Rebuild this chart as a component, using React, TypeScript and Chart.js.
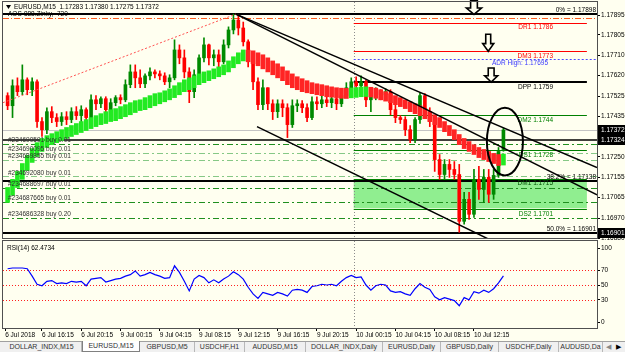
import React, { useEffect, useRef } from 'react';
import { Chart, registerables } from 'chart.js';

Chart.register(...registerables);

const FONT = '"Liberation Sans", Arial, sans-serif';

// ---------------- data (30-minute candle slots) ----------------
const candleOpen = [
  1.17528, 1.17482, 1.17573, 1.17546, 1.17600, 1.17555, 1.17591, 1.17410, 1.17373, 1.17455,
  1.17428, 1.17410, 1.17432, 1.17419, 1.17455, 1.17437, 1.17464, 1.17428, 1.17509, 1.17491,
  1.17514, 1.17464, 1.17496, 1.17519, 1.17509, 1.17578, 1.17636, 1.17609, 1.17582, 1.17618,
  1.17636, 1.17627, 1.17618, 1.17591, 1.17609, 1.17736, 1.17700, 1.17636, 1.17546, 1.17623,
  1.17700, 1.17759, 1.17700, 1.17714, 1.17682, 1.17759, 1.17827, 1.17872, 1.17836, 1.17773,
  1.17714, 1.17591, 1.17487, 1.17564, 1.17491, 1.17455, 1.17491, 1.17473, 1.17396, 1.17482,
  1.17491, 1.17473, 1.17428, 1.17500, 1.17491, 1.17509, 1.17496, 1.17514, 1.17491, 1.17528,
  1.17564, 1.17591, 1.17573, 1.17591, 1.17509, 1.17528, 1.17546, 1.17532, 1.17546, 1.17464,
  1.17428, 1.17419, 1.17373, 1.17328, 1.17419, 1.17528, 1.17455, 1.17410, 1.17237, 1.17169,
  1.17215, 1.17192, 1.17169, 1.16956, 1.17056, 1.16988, 1.17147, 1.17101, 1.17156, 1.17079,
  1.17165, 1.17283,
];
const candleHigh = [
  1.17541, 1.17600, 1.17609, 1.17668, 1.17609, 1.17609, 1.17600, 1.17428, 1.17473, 1.17478,
  1.17446, 1.17451, 1.17455, 1.17473, 1.17478, 1.17482, 1.17473, 1.17532, 1.17528, 1.17523,
  1.17523, 1.17514, 1.17528, 1.17532, 1.17600, 1.17668, 1.17668, 1.17646, 1.17627, 1.17655,
  1.17646, 1.17641, 1.17632, 1.17623, 1.17782, 1.17759, 1.17736, 1.17655, 1.17646, 1.17714,
  1.17791, 1.17763, 1.17736, 1.17736, 1.17782, 1.17841, 1.17899, 1.17895, 1.17863, 1.17782,
  1.17727, 1.17609, 1.17600, 1.17564, 1.17509, 1.17509, 1.17509, 1.17491, 1.17509, 1.17509,
  1.17505, 1.17491, 1.17523, 1.17523, 1.17532, 1.17528, 1.17528, 1.17528, 1.17546, 1.17587,
  1.17609, 1.17614, 1.17618, 1.17600, 1.17546, 1.17564, 1.17555, 1.17559, 1.17555, 1.17487,
  1.17437, 1.17432, 1.17392, 1.17428, 1.17541, 1.17537, 1.17473, 1.17419, 1.17260, 1.17237,
  1.17237, 1.17228, 1.17215, 1.17088, 1.17088, 1.17192, 1.17206, 1.17192, 1.17192, 1.17192,
  1.17292, 1.17380,
];
const candleLow = [
  1.17464, 1.17428, 1.17528, 1.17532, 1.17532, 1.17528, 1.17383, 1.17342, 1.17355, 1.17405,
  1.17387, 1.17392, 1.17396, 1.17405, 1.17419, 1.17410, 1.17414, 1.17414, 1.17464, 1.17473,
  1.17451, 1.17455, 1.17482, 1.17491, 1.17500, 1.17564, 1.17564, 1.17564, 1.17564, 1.17600,
  1.17609, 1.17600, 1.17578, 1.17564, 1.17600, 1.17673, 1.17609, 1.17496, 1.17519, 1.17609,
  1.17682, 1.17668, 1.17664, 1.17659, 1.17673, 1.17745, 1.17809, 1.17804, 1.17754, 1.17659,
  1.17555, 1.17464, 1.17464, 1.17464, 1.17419, 1.17428, 1.17432, 1.17337, 1.17383, 1.17455,
  1.17451, 1.17410, 1.17419, 1.17464, 1.17473, 1.17478, 1.17473, 1.17464, 1.17478, 1.17519,
  1.17546, 1.17532, 1.17537, 1.17478, 1.17455, 1.17509, 1.17509, 1.17514, 1.17441, 1.17405,
  1.17401, 1.17346, 1.17314, 1.17314, 1.17401, 1.17428, 1.17387, 1.17183, 1.17147, 1.17147,
  1.17156, 1.17147, 1.16906, 1.16943, 1.16965, 1.16974, 1.17056, 1.17042, 1.17042, 1.17056,
  1.17156, 1.17275,
];
const candleClose = [
  1.17482, 1.17573, 1.17546, 1.17600, 1.17555, 1.17591, 1.17410, 1.17373, 1.17455, 1.17428,
  1.17410, 1.17432, 1.17419, 1.17455, 1.17437, 1.17464, 1.17428, 1.17509, 1.17491, 1.17514,
  1.17464, 1.17496, 1.17519, 1.17509, 1.17578, 1.17636, 1.17609, 1.17582, 1.17618, 1.17636,
  1.17627, 1.17618, 1.17591, 1.17609, 1.17736, 1.17700, 1.17636, 1.17546, 1.17623, 1.17700,
  1.17759, 1.17700, 1.17714, 1.17682, 1.17759, 1.17827, 1.17872, 1.17836, 1.17773, 1.17714,
  1.17591, 1.17487, 1.17564, 1.17491, 1.17455, 1.17491, 1.17473, 1.17396, 1.17482, 1.17491,
  1.17473, 1.17428, 1.17500, 1.17491, 1.17509, 1.17496, 1.17514, 1.17491, 1.17528, 1.17564,
  1.17591, 1.17573, 1.17591, 1.17509, 1.17528, 1.17546, 1.17532, 1.17546, 1.17464, 1.17428,
  1.17419, 1.17373, 1.17328, 1.17419, 1.17528, 1.17455, 1.17410, 1.17237, 1.17169, 1.17215,
  1.17192, 1.17169, 1.16956, 1.17056, 1.16988, 1.17147, 1.17101, 1.17156, 1.17079, 1.17165,
  1.17274, 1.17372,
];
const maUpper = [
  1.17110, 1.17147, 1.17183, 1.17219, 1.17256, 1.17287, 1.17314, 1.17333, 1.17346, 1.17355,
  1.17364, 1.17373, 1.17383, 1.17392, 1.17401, 1.17410, 1.17419, 1.17428, 1.17437, 1.17446,
  1.17455, 1.17464, 1.17469, 1.17478, 1.17487, 1.17496, 1.17505, 1.17509, 1.17519, 1.17528,
  1.17537, 1.17541, 1.17550, 1.17559, 1.17573, 1.17587, 1.17600, 1.17609, 1.17618, 1.17627,
  1.17636, 1.17641, 1.17650, 1.17659, 1.17668, 1.17686, 1.17705, 1.17723, 1.17736, 1.17735,
  1.17732, 1.17723, 1.17714, 1.17700, 1.17686, 1.17673, 1.17659, 1.17641, 1.17627, 1.17614,
  1.17605, 1.17596, 1.17587, 1.17582, 1.17578, 1.17573, 1.17568, 1.17564, 1.17562, 1.17561,
  1.17563, 1.17565, 1.17567, 1.17568, 1.17566, 1.17562, 1.17555, 1.17546, 1.17537, 1.17528,
  1.17519, 1.17509, 1.17500, 1.17491, 1.17482, 1.17469, 1.17455, 1.17441, 1.17428, 1.17410,
  1.17392, 1.17373, 1.17351, 1.17333, 1.17319, 1.17305, 1.17292, 1.17283, 1.17274, 1.17265,
  1.17260, 1.17262,
];
const maLower = [
  1.17042, 1.17074, 1.17110, 1.17147, 1.17187, 1.17224, 1.17251, 1.17274, 1.17292, 1.17305,
  1.17314, 1.17324, 1.17333, 1.17342, 1.17351, 1.17360, 1.17369, 1.17378, 1.17387, 1.17396,
  1.17401, 1.17410, 1.17414, 1.17423, 1.17432, 1.17441, 1.17451, 1.17460, 1.17464, 1.17473,
  1.17482, 1.17491, 1.17500, 1.17509, 1.17519, 1.17532, 1.17546, 1.17555, 1.17564, 1.17578,
  1.17587, 1.17596, 1.17605, 1.17614, 1.17623, 1.17636, 1.17655, 1.17673, 1.17686, 1.17682,
  1.17673, 1.17664, 1.17650, 1.17636, 1.17623, 1.17609, 1.17596, 1.17578, 1.17564, 1.17555,
  1.17546, 1.17541, 1.17537, 1.17532, 1.17528, 1.17523, 1.17521, 1.17519, 1.17516, 1.17515,
  1.17518, 1.17520, 1.17523, 1.17524, 1.17522, 1.17516, 1.17509, 1.17503, 1.17496, 1.17487,
  1.17478, 1.17469, 1.17455, 1.17446, 1.17437, 1.17423, 1.17410, 1.17396, 1.17383, 1.17364,
  1.17346, 1.17328, 1.17305, 1.17287, 1.17274, 1.17260, 1.17246, 1.17237, 1.17228, 1.17219,
  1.17210, 1.17212,
];
const rsiValues = [
  72, 73, 73, 73, 72, 62, 51, 49, 55, 56,
  52, 53, 52, 55, 54, 55, 49, 58, 59, 60,
  54, 56, 58, 59, 62, 64, 69, 62, 64, 67,
  64, 62, 59, 60, 76, 67, 55, 42, 58, 63,
  60, 53, 57, 53, 58, 62, 68, 64, 58, 47,
  38, 32, 40, 38, 36, 40, 38, 35, 43, 44,
  43, 40, 48, 49, 51, 50, 51, 49, 55, 60,
  63, 60, 61, 50, 43, 49, 51, 50, 42, 40,
  41, 38, 36, 45, 52, 47, 44, 34, 30, 33,
  31, 29, 22, 33, 30, 41, 39, 43, 40, 45,
  53, 62.4734,
];

const timeTickSlots = [-0.5, 7, 15, 23, 31, 39, 47, 55, 63, 71, 79, 87, 95];
const timeTickLabels = [
  '6 Jul 2018', '6 Jul 16:15', '6 Jul 20:15', '9 Jul 00:15', '9 Jul 04:15', '9 Jul 08:15',
  '9 Jul 12:15', '9 Jul 16:15', '9 Jul 20:15', '10 Jul 00:15', '10 Jul 04:15', '10 Jul 08:15',
  '10 Jul 12:15',
];
const priceTicks = [1.1688, 1.1697, 1.17065, 1.17155, 1.1725, 1.17435, 1.17525, 1.1762, 1.1771, 1.17805, 1.17895];
const rsiTicks = [0, 30, 50, 70, 100];
const rsiLevels = [70, 50, 30];

const fibNames = ['0%', '38.2%', '50.0%'];
const fibPrices = [1.17898, 1.17138, 1.16901];
const pivotNames = ['DR1', 'DM3', 'DPP', 'DM2', 'DS1', 'DM1', 'DS2'];
const pivotPrices = [1.1786, 1.1773, 1.1759, 1.1744, 1.1728, 1.1715, 1.1701];
const adrHighPrice = 1.17695;
const orangeLevelPrice = 1.17881;
const bidPrice = 1.17372;
const markedLinePrice = 1.17324;
const axisMarkPrices = [1.17372, 1.17324, 1.16901];
const orderTickets = ['#234690591', '#234690095', '#234689855', '#234692080', '#234688697', '#234687665', '#234686328'];
const orderLots = [0.01, 0.01, 0.01, 0.01, 0.01, 0.01, 0.2];
const orderPrices = [1.1731, 1.17265, 1.17237, 1.1716, 1.17106, 1.17042, 1.1697];
const zonePrices = [1.17015, 1.17142];
const daySeparatorSlot = 70.5;
const pivotSlots = [70.5, 118];
const pivotLabelSlot = 111.1;
const trendBlackA = [[46.5, 1.17899], [120.06, 1.17201]];
const trendBlackB = [[46.5, 1.17899], [120.06, 1.17076]];
const trendChannelLow = [[50.8, 1.17387], [98.25, 1.16872]];
const trendRedDotted = [[-0.94, 1.17496], [46.5, 1.17899]];
const arrowSlots = [95.0, 97.9, 98.5];
const arrowPrices = [1.17898, 1.1773, 1.1759];
const ellipseCenter = [101.3, 1.17319];
const ellipseRadii = [3.67, 0.00154];

const X_MIN = -0.94;
const X_MAX = 120.06;

// ---------------- styles ----------------
const BG = '#fffff0';
const arrowSizes = [[15, 14], [11, 17], [13, 14]];
const orderLineColors = ['#1f8f1f', '#86c886', '#86c886', '#86c886', '#1f8f1f', '#1f8f1f', '#1f8f1f'];
const pivotColors = ['#ff0000', '#ff0000', '#000000', '#008000', '#008000', '#008000', '#008000'];
const pivotLabelColors = ['#ff0000', '#ff0000', '#000000', '#008000', '#008000', '#005000', '#008000'];
const pivotWidths = [1, 1, 2, 1, 1, 1, 1];
const tabNames = ['DOLLAR_INDX,M15', 'EURUSD,M15', 'GBPUSD,M5', 'USDCHF,H1', 'AUDUSD,M15', 'DOLLAR_INDX,Daily', 'EURUSD,Daily', 'GBPUSD,Daily', 'USDCHF,Daily', 'AUDUSD,Da'];
const tabLefts = [2, 82, 140, 195, 245, 306, 383, 441, 499, 559];
const tabRight = 603;

function seg(ctx: any, x1: number, y1: number, x2: number, y2: number, color: string, width: number, dash?: number[]) {
  ctx.save();
  ctx.beginPath();
  ctx.strokeStyle = color;
  ctx.lineWidth = width;
  ctx.setLineDash(dash || []);
  ctx.moveTo(x1, y1);
  ctx.lineTo(x2, y2);
  ctx.stroke();
  ctx.restore();
}
const crisp = (v: number, w: number) => (Math.round(w) % 2 === 1 ? Math.round(v) + 0.5 : Math.round(v));

function frame(ctx: any, a: any) {
  ctx.save();
  ctx.strokeStyle = '#505050';
  ctx.lineWidth = 1;
  ctx.strokeRect(Math.round(a.left) - 0.5, Math.round(a.top) - 0.5, Math.round(a.right - a.left) + 1, Math.round(a.bottom - a.top) + 1);
  ctx.restore();
}

const mainOverlay = {
  id: 'mainOverlay',
  beforeDatasetsDraw(chart: any) {
    const { ctx, chartArea: a, scales } = chart;
    const X = (v: number) => scales.x.getPixelForValue(v);
    const Y = (v: number) => scales.y.getPixelForValue(v);
    ctx.save();
    ctx.beginPath();
    ctx.rect(a.left, a.top, a.right - a.left, a.bottom - a.top);
    ctx.clip();
    // zone
    const zx1 = X(pivotSlots[0]);
    const zx2 = X(pivotSlots[1]);
    const zy1 = Y(zonePrices[1]);
    const zy2 = Y(zonePrices[0]);
    ctx.fillStyle = '#90ee90';
    ctx.fillRect(zx1, zy1, zx2 - zx1, zy2 - zy1);
    // day separator
    const sx = Math.round(X(daySeparatorSlot)) + 0.5;
    seg(ctx, sx, a.top, sx, a.bottom, '#8c8c8c', 1, [1, 2]);
    // full width lines
    const full = (p: number, color: string, w: number, dash?: number[]) => {
      const y = crisp(Y(p), w);
      seg(ctx, a.left, y, a.right, y, color, w, dash);
    };
    full(bidPrice, '#c4c4c4', 1);
    full(orangeLevelPrice, '#ff5a1a', 1, [6, 2, 1, 2]);
    orderPrices.forEach((p, i) => full(p, orderLineColors[i], 1, [6, 3, 2, 3]));
    full(markedLinePrice, '#000000', 1.5);
    fibPrices.forEach((p) => full(p, '#000000', 2));
    // pivots
    const px1 = X(pivotSlots[0]);
    const px2 = X(pivotSlots[1]);
    pivotPrices.forEach((p, i) => {
      const y = crisp(Y(p), pivotWidths[i]);
      seg(ctx, px1, y, px2, y, pivotColors[i], pivotWidths[i]);
    });
    const ay = crisp(Y(adrHighPrice), 1);
    seg(ctx, px1, ay, a.right, ay, '#4a4aff', 1, [2, 2]);
    ctx.restore();
  },
  afterDatasetsDraw(chart: any) {
    const { ctx, chartArea: a, scales } = chart;
    const X = (v: number) => scales.x.getPixelForValue(v);
    const Y = (v: number) => scales.y.getPixelForValue(v);
    ctx.save();
    ctx.font = `6.5px ${FONT}`;
    // pivot labels (below line, right aligned)
    const lx = X(pivotLabelSlot);
    ctx.textAlign = 'right';
    ctx.textBaseline = 'top';
    pivotPrices.forEach((p, i) => {
      ctx.fillStyle = pivotLabelColors[i];
      ctx.fillText(`${pivotNames[i]} ${p.toFixed(4)}`, lx, Y(p) + 1.5);
    });
    ctx.fillStyle = '#3a3aff';
    ctx.fillText(`ADR High: ${adrHighPrice.toFixed(5)}`, lx - 5, Y(adrHighPrice) + 1.5);
    // fib labels (above line, right edge)
    ctx.fillStyle = '#000';
    ctx.textBaseline = 'bottom';
    fibPrices.forEach((p, i) => {
      ctx.fillText(`${fibNames[i]} = ${p.toFixed(5)}`, a.right - 1, Y(p) - 1);
    });
    // order labels
    ctx.textAlign = 'left';
    ctx.fillStyle = '#303030';
    orderPrices.forEach((p, i) => {
      ctx.fillText(`${orderTickets[i]} buy ${orderLots[i].toFixed(2)}`, a.left + 5, Y(p) - 0.5);
    });
    // header
    const last = candleClose.length - 1;
    ctx.fillStyle = '#000';
    ctx.textBaseline = 'middle';
    ctx.beginPath();
    ctx.moveTo(a.left + 3, a.top + 3);
    ctx.lineTo(a.left + 8, a.top + 3);
    ctx.lineTo(a.left + 5.5, a.top + 7);
    ctx.closePath();
    ctx.fill();
    ctx.fillText(
      `EURUSD,M15  ${candleOpen[last].toFixed(5)} ${candleHigh[last].toFixed(5)} ${candleLow[last].toFixed(5)} ${candleClose[last].toFixed(5)}`,
      a.left + 11, a.top + 5
    );
    ctx.fillText('AOS-888.Zinky,  720', a.left + 5, a.top + 12);
    // ellipse
    const ex = X(ellipseCenter[0]);
    const ey = Y(ellipseCenter[1]);
    const rx = X(ellipseCenter[0] + ellipseRadii[0]) - ex;
    const ry = Y(ellipseCenter[1] - ellipseRadii[1]) - ey;
    ctx.beginPath();
    ctx.ellipse(ex, ey, rx, ry, 0, 0, Math.PI * 2);
    ctx.strokeStyle = '#000';
    ctx.lineWidth = 2;
    ctx.stroke();
    // arrows
    arrowSlots.forEach((s, i) => {
      const cx = X(s);
      const tip = Y(arrowPrices[i]);
      const [w, h] = arrowSizes[i];
      const hh = h * 0.45;
      const sw = w * 0.45;
      ctx.beginPath();
      ctx.moveTo(cx, tip);
      ctx.lineTo(cx - w / 2, tip - hh);
      ctx.lineTo(cx - sw / 2, tip - hh);
      ctx.lineTo(cx - sw / 2, tip - h);
      ctx.lineTo(cx + sw / 2, tip - h);
      ctx.lineTo(cx + sw / 2, tip - hh);
      ctx.lineTo(cx + w / 2, tip - hh);
      ctx.closePath();
      ctx.fillStyle = BG;
      ctx.fill();
      ctx.strokeStyle = '#000';
      ctx.lineWidth = 1.6;
      ctx.stroke();
    });
    // axis price boxes
    ctx.font = `6.5px ${FONT}`;
    ctx.textAlign = 'left';
    ctx.textBaseline = 'middle';
    axisMarkPrices.forEach((p) => {
      const y = Math.round(Y(p));
      ctx.fillStyle = '#000';
      ctx.fillRect(a.right, y - 5, chart.width - a.right, 10);
      ctx.fillStyle = '#fff';
      ctx.fillText(p.toFixed(5), a.right + 4, y);
    });
    frame(ctx, a);
    ctx.restore();
  },
};

const rsiOverlay = {
  id: 'rsiOverlay',
  beforeDatasetsDraw(chart: any) {
    const { ctx, chartArea: a, scales } = chart;
    const X = (v: number) => scales.x.getPixelForValue(v);
    const Y = (v: number) => scales.y.getPixelForValue(v);
    rsiLevels.forEach((l) => {
      const y = crisp(Y(l), 1);
      seg(ctx, a.left, y, a.right, y, '#ff2020', 1, [1, 2]);
    });
    const sx = Math.round(X(daySeparatorSlot)) + 0.5;
    seg(ctx, sx, a.top, sx, a.bottom, '#8c8c8c', 1, [1, 2]);
  },
  afterDatasetsDraw(chart: any) {
    const { ctx, chartArea: a } = chart;
    ctx.save();
    ctx.font = `6.5px ${FONT}`;
    ctx.fillStyle = '#000';
    ctx.textAlign = 'left';
    ctx.textBaseline = 'middle';
    ctx.fillText(`RSI(14) ${rsiValues[rsiValues.length - 1].toFixed(4)}`, a.left + 4, a.top + 7);
    frame(ctx, a);
    ctx.restore();
  },
};

export default function App() {
  const mainRef = useRef<HTMLCanvasElement>(null);
  const rsiRef = useRef<HTMLCanvasElement>(null);

  useEffect(() => {
    const slots = candleClose.map((_, i) => i);
    const candleColors = candleClose.map((c, i) => (c >= candleOpen[i] ? '#008a00' : '#ff0000'));
    const maColors = maUpper.map((v, i) => (i === 0 || v >= maUpper[i - 1] ? '#22ea22' : '#ff2424'));
    const lineDs = (pts: number[][], color: string, width: number, dash?: number[]) => ({
      type: 'line',
      data: pts.map((p) => ({ x: p[0], y: p[1] })),
      borderColor: color,
      borderWidth: width,
      borderDash: dash || [],
      pointRadius: 0,
      fill: false,
      tension: 0,
    });

    const main = new Chart(mainRef.current as HTMLCanvasElement, {
      type: 'bar',
      data: {
        datasets: [
          lineDs(trendBlackA, '#000', 1.5),
          lineDs(trendBlackB, '#000', 1.5),
          lineDs(trendChannelLow, '#000', 1.5),
          lineDs(trendRedDotted, '#ff5050', 1, [2, 2]),
          {
            type: 'bar',
            data: slots.map((i) => ({ x: i, y: [maLower[i], maUpper[i]] })),
            backgroundColor: maColors,
            barThickness: 4,
            grouped: false,
          },
          {
            type: 'bar',
            data: slots.map((i) => ({ x: i, y: [candleOpen[i], candleClose[i]] })),
            backgroundColor: candleColors,
            barThickness: 3,
            minBarLength: 1,
            grouped: false,
          },
          {
            type: 'bar',
            data: slots.map((i) => ({ x: i, y: [candleLow[i], candleHigh[i]] })),
            backgroundColor: candleColors,
            barThickness: 1,
            grouped: false,
          },
        ] as any,
      },
      options: {
        responsive: false,
        animation: false,
        devicePixelRatio: 1,
        events: [],
        layout: { padding: { left: 3, top: 2, right: 0, bottom: 2 } },
        plugins: { legend: { display: false }, tooltip: { enabled: false } },
        scales: {
          x: {
            type: 'linear',
            min: X_MIN,
            max: X_MAX,
            offset: false,
            display: false,
            grid: { offset: false },
          },
          y: {
            type: 'linear',
            position: 'right',
            min: 1.1688,
            max: 1.179542,
            afterBuildTicks: (s: any) => {
              s.ticks = priceTicks.map((v) => ({ value: v }));
            },
            afterFit: (s: any) => {
              s.width = 28;
              s.paddingTop = 0;
              s.paddingBottom = 0;
            },
            ticks: {
              autoSkip: false,
              padding: 1,
              color: '#000',
              font: { family: FONT, size: 6.5 },
              callback: (v: any) => Number(v).toFixed(5),
            },
            grid: { drawOnChartArea: false, drawTicks: true, tickLength: 3, color: '#000' },
            border: { display: true, color: '#000' },
          },
        },
      } as any,
      plugins: [mainOverlay],
    });

    const rsi = new Chart(rsiRef.current as HTMLCanvasElement, {
      type: 'line',
      data: {
        datasets: [
          {
            data: slots.map((i) => ({ x: i, y: rsiValues[i] })),
            borderColor: '#0000ff',
            borderWidth: 1.2,
            pointRadius: 0,
            tension: 0,
            fill: false,
          },
        ],
      },
      options: {
        responsive: false,
        animation: false,
        devicePixelRatio: 1,
        events: [],
        layout: { padding: { left: 3, top: 1, right: 0, bottom: 0 } },
        plugins: { legend: { display: false }, tooltip: { enabled: false } },
        scales: {
          x: {
            type: 'linear',
            min: X_MIN,
            max: X_MAX,
            offset: false,
            afterBuildTicks: (s: any) => {
              s.ticks = timeTickSlots.map((v) => ({ value: v }));
            },
            afterFit: (s: any) => {
              s.height = 13;
              s.paddingLeft = 0;
              s.paddingRight = 0;
            },
            ticks: {
              autoSkip: false,
              maxRotation: 0,
              minRotation: 0,
              align: 'start',
              padding: 0,
              color: '#000',
              font: { family: FONT, size: 6.5 },
              callback: (_v: any, i: number) => timeTickLabels[i],
            },
            grid: { drawOnChartArea: false, drawTicks: true, tickLength: 3, color: '#000' },
            border: { display: true, color: '#000' },
          },
          y: {
            type: 'linear',
            position: 'right',
            min: -8.1,
            max: 109.5,
            afterBuildTicks: (s: any) => {
              s.ticks = rsiTicks.map((v) => ({ value: v }));
            },
            afterFit: (s: any) => {
              s.width = 28;
              s.paddingTop = 0;
              s.paddingBottom = 0;
            },
            ticks: {
              autoSkip: false,
              padding: 1,
              color: '#000',
              font: { family: FONT, size: 6.5 },
              callback: (v: any) => String(v),
            },
            grid: { drawOnChartArea: false, drawTicks: true, tickLength: 3, color: '#000' },
            border: { display: true, color: '#000' },
          },
        },
      } as any,
      plugins: [rsiOverlay],
    });

    return () => {
      main.destroy();
      rsi.destroy();
    };
  }, []);

  return (
    <div style={{ position: 'fixed', left: 0, top: 0, width: 625, height: 352, background: BG, overflow: 'hidden' }}>
      <canvas ref={mainRef} width={625} height={240} style={{ position: 'absolute', left: 0, top: 0 }} />
      <canvas ref={rsiRef} width={625} height={101} style={{ position: 'absolute', left: 0, top: 240 }} />
      <div
        style={{
          position: 'absolute', left: 0, top: 341, width: 625, height: 11, background: '#f0f0f0',
          borderTop: '1px solid #a0a0a0', boxSizing: 'border-box',
        }}
      >
        {tabNames.map((t, i) => {
          const left = tabLefts[i];
          const right = i < tabLefts.length - 1 ? tabLefts[i + 1] : tabRight;
          const active = i === 1;
          return (
            <div
              key={t}
              style={{
                position: 'absolute', left, top: active ? -1 : 0, width: right - left, height: active ? 11 : 10,
                boxSizing: 'border-box', background: active ? '#ffffff' : 'transparent',
                border: active ? '1px solid #808080' : 'none', borderTop: active ? 'none' : undefined,
                borderRight: active ? '1px solid #808080' : '1px solid #b8b8b8',
                font: `7px ${FONT}`, color: '#333', lineHeight: '10px', textAlign: 'center', whiteSpace: 'nowrap', overflow: 'hidden',
              }}
            >
              {t}
            </div>
          );
        })}
        <div style={{ position: 'absolute', left: 604, top: 0, width: 9, height: 10, font: `7px ${FONT}`, color: '#888', lineHeight: '10px', textAlign: 'center' }}>◀</div>
        <div style={{ position: 'absolute', left: 614, top: 0, width: 9, height: 10, font: `7px ${FONT}`, color: '#000', lineHeight: '10px', textAlign: 'center' }}>▶</div>
      </div>
    </div>
  );
}
